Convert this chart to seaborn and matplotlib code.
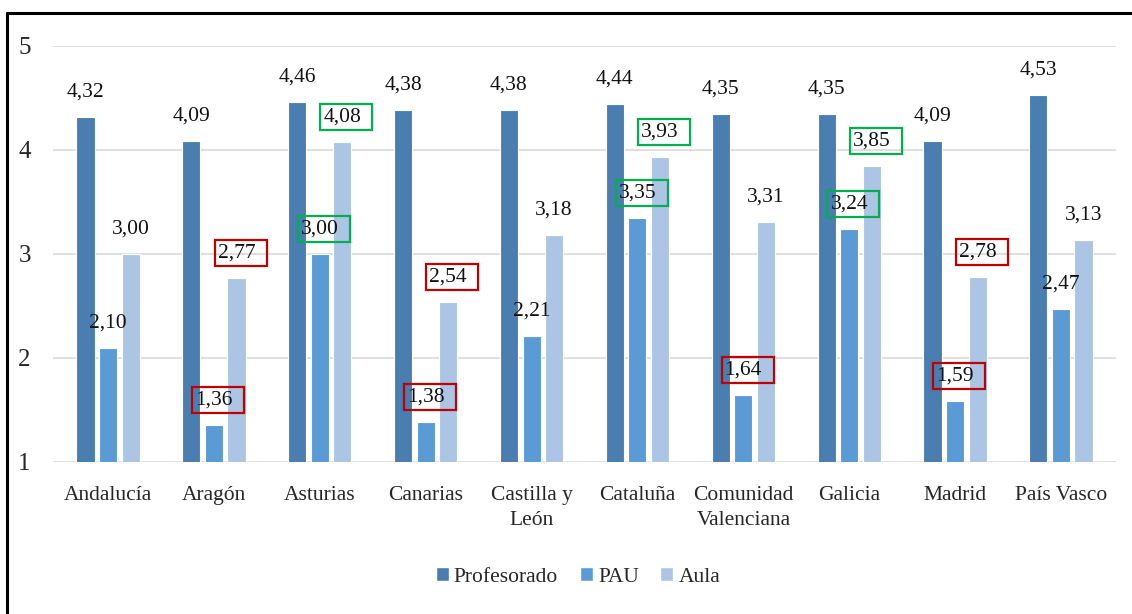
import matplotlib
matplotlib.use("Agg")
import matplotlib.pyplot as plt
from matplotlib.patches import Rectangle
from matplotlib.lines import Line2D
import seaborn as sns
import pandas as pd

regiones = ["Andalucía", "Aragón", "Asturias", "Canarias", "Castilla y\nLeón",
            "Cataluña", "Comunidad\nValenciana", "Galicia", "Madrid", "País Vasco"]
series = ["Profesorado", "PAU", "Aula"]
profesorado = [4.32, 4.09, 4.46, 4.38, 4.38, 4.44, 4.35, 4.35, 4.09, 4.53]
pau = [2.10, 1.36, 3.00, 1.38, 2.21, 3.35, 1.64, 3.24, 1.59, 2.47]
aula = [3.00, 2.77, 4.08, 2.54, 3.18, 3.93, 3.31, 3.85, 2.78, 3.13]
y_ticks = [1, 2, 3, 4, 5]

# labels highlighted with a coloured frame: (series index, region index)
rojos = [(1, 1), (2, 1), (1, 3), (2, 3), (1, 6), (1, 8), (2, 8)]
verdes = [(1, 2), (2, 2), (1, 5), (2, 5), (1, 7), (2, 7)]

colores = ["#4a7eb1", "#5b9bd5", "#adc5e5"]

df = pd.DataFrame({
    "region": regiones * 3,
    "serie": [s for s in series for _ in regiones],
    "valor": profesorado + pau + aula,
})

sns.set_theme(style="white")
plt.rcParams["font.family"] = ["Liberation Serif", "DejaVu Serif"]

fig = plt.figure(figsize=(11.32, 6.14), dpi=100)
ax = fig.add_axes([53 / 1132, 152 / 614, (1116 - 53) / 1132, (462 - 46) / 614])

sns.barplot(data=df, x="region", y="valor", hue="serie", hue_order=series,
            order=regiones, palette=colores, saturation=1, width=0.64, gap=0.2,
            edgecolor="white", linewidth=0.8, ax=ax, legend=False)

ax.set_ylim(1, 5)
ax.set_xlim(-0.52, 9.52)
ax.set_yticks(y_ticks)
ax.set_yticklabels([str(t) for t in y_ticks], fontsize=18)
ax.tick_params(axis="y", pad=16, length=0)
ax.tick_params(axis="x", pad=17, length=0, labelsize=15.5)
for lbl in ax.get_xticklabels():
    lbl.set_linespacing(1.45)
ax.set_xlabel("")
ax.set_ylabel("")
ax.yaxis.grid(True, color="#d9d9d9", linewidth=1.2)
ax.set_axisbelow(True)
for s in ax.spines.values():
    s.set_visible(False)

textos = {}
for si, cont in enumerate(ax.containers):
    for ri, bar in enumerate(cont):
        v = bar.get_height()
        xc = bar.get_x() + bar.get_width() / 2
        t = ax.annotate(f"{v:.2f}".replace(".", ","), (xc, v),
                        xytext=(0, 25), textcoords="offset pixels",
                        ha="center", va="center", fontsize=15.5, color="#111111")
        textos[(si, ri)] = t

fig.canvas.draw()
renderer = fig.canvas.get_renderer()
inv = ax.transData.inverted()
for marcas, col in ((rojos, "#c00000"), (verdes, "#00b050")):
    for key in marcas:
        bb = textos[key].get_window_extent(renderer)
        cy = (bb.y0 + bb.y1) / 2
        x0, y0 = inv.transform((bb.x0 - 3, cy - 13))
        x1, y1 = inv.transform((bb.x0 + 49, cy + 13))
        ax.add_patch(Rectangle((x0, y0), x1 - x0, y1 - y0, fill=False,
                               edgecolor=col, linewidth=1.6, clip_on=False))

handles = [Rectangle((0, 0), 1, 1, facecolor=c, edgecolor="white") for c in colores]
fig.legend(handles, series, loc="center", bbox_to_anchor=(578 / 1132, 37 / 614),
           ncol=3, frameon=False, fontsize=15.5, handlelength=0.6, handleheight=0.6,
           handletextpad=0.25, columnspacing=1.0)

# outer frame (left and top edges)
fig.add_artist(Line2D([7 / 1132, 7 / 1132], [-0.05, 1 - 13 / 614], color="black", linewidth=2.2))
fig.add_artist(Line2D([7 / 1132, 1.05], [1 - 13 / 614, 1 - 13 / 614], color="black", linewidth=2.2))

fig.savefig("out.png", dpi=100)
